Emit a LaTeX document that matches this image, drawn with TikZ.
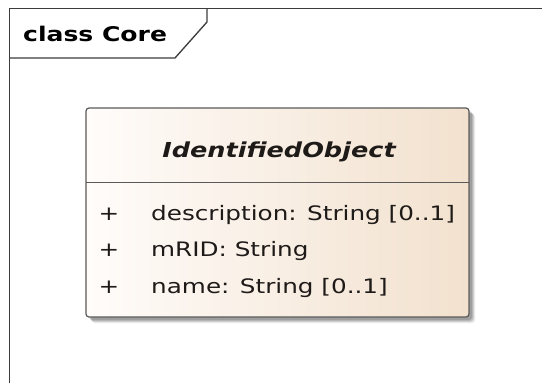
\documentclass[tikz,border=0pt]{standalone}
\usepackage{fontspec}
\setmainfont[FakeStretch=1.24]{DejaVu Sans}
\definecolor{framecol}{HTML}{3C3C3C}
\definecolor{boxcol}{HTML}{5A5A5A}
\definecolor{gradL}{HTML}{FFFCFA}
\definecolor{gradR}{HTML}{F2E1CE}
\definecolor{txtcol}{HTML}{1E1A18}
\begin{document}
\begin{tikzpicture}[x=1pt,y=1pt,
  framestyle/.style={draw=framecol,line width=1.3pt},
  attr/.style={anchor=base west,inner sep=0pt,text=txtcol,font=\fontsize{19.9}{22}\selectfont},
  vis/.style={anchor=base,inner sep=0pt,text=txtcol,font=\fontsize{19.9}{22}\selectfont}]
\useasboundingbox (0,0) rectangle (542,-383);
\fill[white] (0,0) rectangle (542,-383);
% frame
\draw[framestyle] (542,-8.5) -- (9.5,-8.5) -- (9.5,-383);
\coordinate (t1) at (207,-8.5);
\coordinate (t2) at (207,-22);
\coordinate (t3) at (175,-58);
\coordinate (t4) at (9.5,-58);
\draw[framestyle] (t1) -- (t2) -- (t3) -- (t4);
\node[anchor=base west,inner sep=0pt,font=\fontsize{20.2}{24}\selectfont\bfseries,text=black] (title) at (23,-41.5) {class Core};
% shadow
\foreach \o/\a in {6/0.08,5/0.10,4/0.12,3/0.14}{
  \fill[black,opacity=\a,rounded corners=3pt] (86+\o,-108-\o) rectangle (469+\o,-317-\o);
}
% class box
\shade[left color=gradL,right color=gradR,rounded corners=3pt] (86,-108) rectangle (469,-317);
\draw[draw=boxcol,line width=1.2pt,rounded corners=3pt] (86,-108) rectangle (469,-317);
\coordinate (sepL) at (86,-182.5);
\coordinate (sepR) at (469,-182.5);
\draw[draw=boxcol,line width=1.2pt] (sepL) -- (sepR);
\node[anchor=base,inner sep=0pt,text=txtcol,font=\fontsize{20.6}{24}\selectfont\bfseries\itshape] (cls) at (279,-157) {IdentifiedObject};
\node[vis] (p1) at (109,-220) {+};
\node[attr] (a1) at (151,-220) {description: String [0..1]};
\node[vis] (p2) at (109,-256) {+};
\node[attr] (a2) at (151,-256) {mRID: String};
\node[vis] (p3) at (109,-293) {+};
\node[attr] (a3) at (151,-293) {name: String [0..1]};
\end{tikzpicture}
\end{document}
